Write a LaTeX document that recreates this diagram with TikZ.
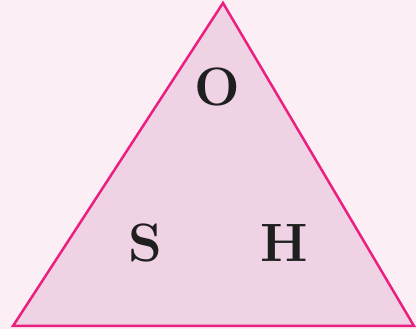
\documentclass[tikz,border=0pt]{standalone}
\usepackage{xcolor}
\usepackage{tikz}
\usetikzlibrary{positioning}

\definecolor{bgpink}{HTML}{FBEFF5}
\definecolor{trifill}{HTML}{EFD3E5}
\definecolor{triedge}{HTML}{EA1F7F}

\begin{document}
\begin{tikzpicture}[x=1pt,y=1pt,
      lt/.style={font=\bfseries\fontsize{54}{58}\selectfont,text=black!88,inner sep=0pt,anchor=base}]
    \fill[bgpink] (0,0) rectangle (416,329);
    \useasboundingbox (0,0) rectangle (416,329);
    \coordinate (top) at (223,326);
    \coordinate (bl) at (13,3);
    \coordinate (br) at (414,3);
    \filldraw[fill=trifill,draw=triedge,line width=2.5pt,line join=miter] (top) -- (bl) -- (br) -- cycle;
    \node[lt] (o) at (217,223) {O};
    \node[lt] (s) at (145,67) {S};
    \node[lt] (h) at (284,67) {H};
  \end{tikzpicture}
\end{document}
